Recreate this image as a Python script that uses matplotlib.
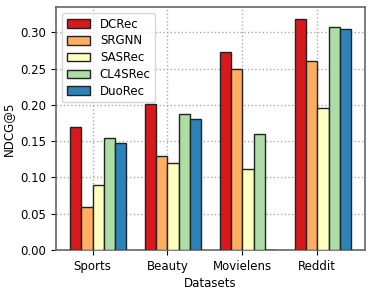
import matplotlib
matplotlib.use('Agg')
import matplotlib.pyplot as plt
import numpy as np

# Data
datasets = ['Sports', 'Beauty', 'Movielens', 'Reddit']
models = ['DCRec', 'SRGNN', 'SASRec', 'CL4SRec', 'DuoRec']
dcrec = [0.169, 0.201, 0.273, 0.319]
srgnn = [0.059, 0.129, 0.250, 0.261]
sasrec = [0.089, 0.120, 0.111, 0.196]
cl4srec = [0.154, 0.187, 0.160, 0.308]
duorec = [0.148, 0.181, 0.0, 0.304]
colors = ['#d7191c', '#fdae61', '#ffffbf', '#abdda4', '#2b83ba']

series = [dcrec, srgnn, sasrec, cl4srec, duorec]

fig = plt.figure(figsize=(3.74, 2.92), dpi=100)
ax = fig.add_axes([0.15, 0.144, 0.826, 0.832])

x = np.arange(len(datasets))
width = 0.15
for i, (name, vals) in enumerate(zip(models, series)):
    ax.bar(x + (i - 1.5) * width, vals, width, label=name, color=colors[i],
           edgecolor='#222222', linewidth=1.0, zorder=3)

fs = 8.5
ax.set_xticks(x)
ax.set_xticklabels(datasets, fontsize=fs)
ax.tick_params(axis='y', labelsize=fs)
ax.set_xlabel('Datasets', fontsize=fs, labelpad=3)
ax.set_ylabel('NDCG@5', fontsize=fs)
ax.grid(True, linestyle=':', color='#aaaaaa', linewidth=1.0, zorder=0)
for s in ax.spines.values():
    s.set_color('#666666')
    s.set_linewidth(1.2)

ax.legend(loc='upper left', fontsize=fs, handlelength=2.0, handleheight=0.75,
          labelspacing=0.32, framealpha=0.8)

plt.savefig('out.png', dpi=100)
plt.close()
